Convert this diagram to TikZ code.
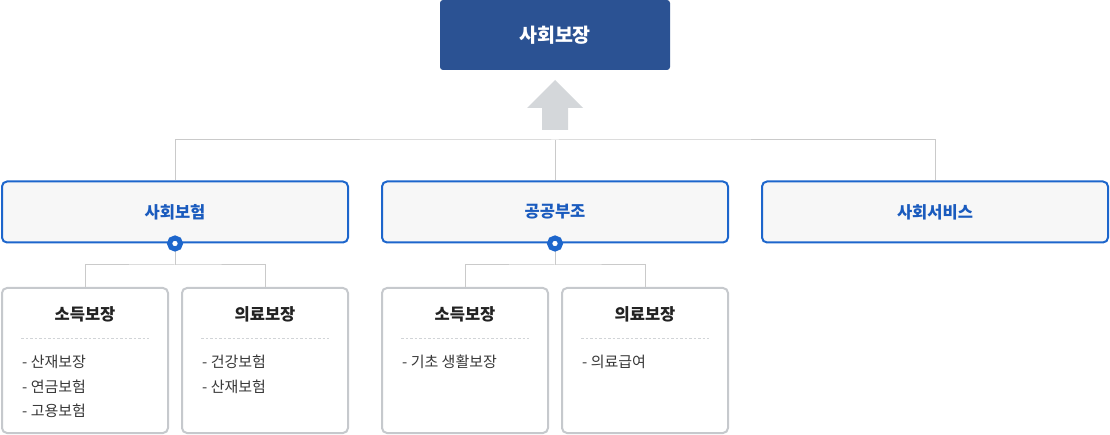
\documentclass[tikz,border=0pt]{standalone}
\usepackage{fontspec}
\setmainfont{Noto Sans CJK KR}
\definecolor{navy}{HTML}{2B5293}
\definecolor{lineblue}{HTML}{1D66CC}
\definecolor{textblue}{HTML}{1A5BBE}
\definecolor{boxgray}{HTML}{C6C9CD}
\definecolor{conngray}{HTML}{CACACA}
\definecolor{arrowgray}{HTML}{D4D7DA}
\definecolor{panel}{HTML}{F7F7F7}
\definecolor{ink}{HTML}{222222}

\begin{document}
\begin{tikzpicture}[x=1pt,y=-1pt]
    \tikzstyle{topbox}=[rectangle,rounded corners=3pt,fill=navy,text=white,minimum width=230pt,minimum height=70pt,inner sep=0pt,font=\fontsize{19.5}{22}\selectfont\bfseries]
    \tikzstyle{midbox}=[rectangle,rounded corners=5pt,draw=lineblue,line width=2pt,fill=panel,text=textblue,minimum width=346pt,minimum height=61pt,inner sep=0pt,font=\fontsize{16.5}{19}\selectfont\bfseries]
    \tikzstyle{subbox}=[rectangle,rounded corners=5pt,draw=boxgray,line width=2pt,fill=white,minimum width=166pt,minimum height=145pt,inner sep=0pt]
    \tikzstyle{subtitle}=[inner sep=0pt,text=ink,font=\fontsize{16.5}{19}\selectfont\bfseries]
    \tikzstyle{item}=[anchor=west,inner sep=0pt,text=ink!90,font=\fontsize{15}{17}\selectfont]
    \tikzstyle{dot}=[circle,draw=lineblue,fill=white,line width=5pt,minimum size=11pt,inner sep=0pt]
    \tikzstyle{conn}=[draw=conngray,line width=1pt]
    \tikzstyle{sep}=[draw=boxgray!80,line width=0.8pt,dash pattern=on 2.5pt off 2pt]
    \useasboundingbox (0,0) rectangle (1110,435);

    \node[topbox] (sw) at (555,35) {사회보장};
    \fill[arrowgray] (527,108) -- (555,80) -- (583,108) -- (568,108) -- (568,130) -- (542,130) -- (542,108) -- cycle;

    \foreach \name/\x/\txt in {ins/175/사회보험, asst/555/공공부조, svc/935/사회서비스}
        \node[midbox] (\name) at (\x,212) {\txt};

    \coordinate (jt) at (555,140);
    \draw[conn] (ins.north) |- (jt) -| (svc.north);
    \draw[conn] (jt) -- (asst.north);

    \foreach \bx/\cx/\ttl in {inc1/85/소득보장, med1/265/의료보장, inc2/465/소득보장, med2/645/의료보장} {
        \node[subbox] (\bx) at (\cx,360.5) {};
        \node[subtitle] (\bx-t) at (\cx,314) {\ttl};
        \draw[sep] (\cx-64,338) -- (\cx+64,338);
    }

    \foreach \bx/\cx/\y/\txt in {inc1/85/362/산재보장, inc1/85/387/연금보험, inc1/85/411/고용보험,
            med1/265/362/건강보험, med1/265/387/산재보험, inc2/465/362/기초 생활보장, med2/645/362/의료급여}
        \node[item] (\bx-\y) at (\cx-63,\y) {-\ \txt};

    % branches under the two blue boxes
    \foreach \dn/\pn/\jx/\a/\b in {d1/ins/175/inc1/med1, d2/asst/555/inc2/med2} {
        \coordinate (j-\dn) at (\jx,265);
        \draw[conn] (\a.north) |- (j-\dn) -| (\b.north);
        \draw[conn] (\pn.south) -- (j-\dn);
        \node[dot] (\dn) at (\pn.south) {};
    }
\end{tikzpicture}
\end{document}
